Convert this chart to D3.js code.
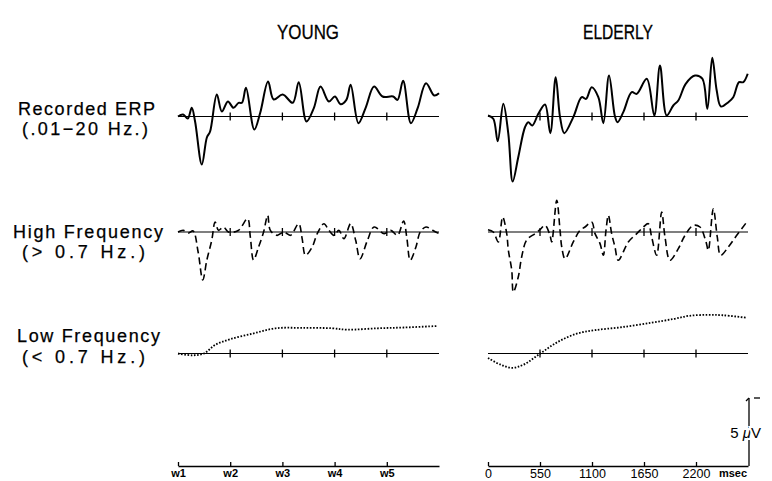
<!DOCTYPE html>
<html>
<head>
<meta charset="utf-8">
<script src="https://cdn.jsdelivr.net/npm/d3@7"></script>
<style>
  body { margin: 0; background: #fff; }
  svg { display: block; font-family: "Liberation Sans", Arial, sans-serif; }
</style>
</head>
<body>
<div id="chart"></div>
<script>
const width = 772, height = 481;

// time in msec, amplitude in microvolts (negative drawn upward)
const timeTicks = [0, 550, 1100, 1650, 2200];
const youngTickLabels = ["w1", "w2", "w3", "w4", "w5"];
const elderlyTickLabels = ["0", "550", "1100", "1650", "2200"];
const groupTitles = ["YOUNG", "ELDERLY"];
const rowLabels = [
    ["Recorded ERP", "(.01\u221220 Hz.)"],
    ["High Frequency", "(> 0.7 Hz.)"],
    ["Low Frequency", "(< 0.7 Hz.)"]
];

const youngErp = [[0,0],[53,-0.16],[103,0.16],[145,-0.68],[180,0.39],[251,3.75],[304,1.64],[338,1.17],
    [409,-1.72],[462,-0.39],[526,-1.17],[585,-0.68],[638,-1.07],[674,-1.07],[716,-2.24],[804,1.02],
    [867,-0.31],[949,-2.73],[1008,-1.33],[1103,-1.72],[1209,-1.07],[1272,-2.68],[1354,0.39],[1431,-0.65],
    [1502,-2.34],[1590,-1.17],[1653,-1.56],[1713,-0.96],[1774,-1.30],[1819,-2.48],[1901,0.52],[1978,-0.70],
    [2066,-2.34],[2155,-1.56],[2267,-1.56],[2313,-1.30],[2372,-2.79],[2454,0.52],[2525,-0.65],[2613,-2.60],
    [2700,-1.64],[2750,-1.82]];

const elderlyErp = [[0,-0.08],[56,0.18],[103,1.93],[162,-0.99],[215,1.35],[261,5.08],[320,3.18],[391,0.84],
    [426,0.45],[469,0.70],[532,-0.21],[603,-0.94],[659,1.30],[716,-3.07],[762,0.05],[807,1.30],[902,0.05],
    [991,-1.51],[1037,-1.38],[1097,-2.29],[1167,-1.51],[1220,0.52],[1280,-3.20],[1343,0],[1370,0.45],
    [1431,-0.34],[1520,-1.90],[1573,-1.77],[1679,-2.95],[1759,-0.08],[1819,-3.98],[1890,-0.08],[1960,-0.86],
    [2013,-1.25],[2091,-2.55],[2189,-3.20],[2267,-2.95],[2320,-0.60],[2372,-4.59],[2419,-2.03],[2464,-0.78],
    [2542,-1.12],[2594,-1.51],[2655,-2.68],[2700,-2.68],[2747,-3.34]];

const youngHigh = [[0,0],[56,-0.13],[109,0.08],[159,-0.08],[212,1.56],[261,3.75],[304,2.19],[356,0.63],
    [391,-0.78],[427,-0.13],[479,-0.39],[532,0],[635,-0.12],[733,-1.04],[762,0.39],[796,2.19],[849,1.17],
    [902,0],[945,-1.30],[973,-0.13],[1044,0.26],[1114,0],[1185,0.26],[1272,-0.65],[1308,0.52],[1343,1.82],
    [1414,1.17],[1467,0.13],[1537,-0.65],[1590,-0.13],[1643,0.26],[1695,-0.13],[1748,0.52],[1819,-0.65],
    [1872,0.65],[1918,2.09],[1996,0.65],[2066,-0.39],[2172,0.13],[2242,-0.13],[2313,0.26],[2377,-0.86],
    [2412,0.52],[2447,2.21],[2507,1.17],[2552,0],[2613,-0.39],[2683,-0.13],[2750,0.13]];

const elderlyHigh = [[0,-0.18],[56,0],[109,0.78],[155,-1.17],[198,0.13],[215,1.41],[251,2.97],[268,4.69],
    [320,3.52],[356,1.95],[409,0.63],[497,0.13],[550,-0.18],[603,-0.52],[656,0.26],[674,0.78],[727,-2.48],
    [762,-0.13],[780,1.17],[815,2.09],[902,0.78],[973,-0.13],[1026,-0.39],[1097,-0.78],[1132,0.13],
    [1185,0.91],[1220,1.82],[1248,-0.13],[1273,-1.30],[1308,0.13],[1343,1.17],[1378,2.21],[1484,0.78],
    [1573,0.13],[1643,-0.39],[1695,-0.65],[1731,0.39],[1784,1.82],[1837,-1.56],[1872,0.39],[1925,2.21],
    [2013,1.30],[2084,0.26],[2172,-0.52],[2242,-0.39],[2306,0.78],[2330,1.43],[2383,-1.82],[2425,0.39],
    [2461,1.82],[2542,1.17],[2631,0.26],[2737,-0.78]];

const youngLow = [[0,0],[154,0.14],[273,0],[391,-0.67],[550,-1.12],[790,-1.56],[1029,-1.97],[1307,-2.00],
    [1626,-1.97],[1784,-1.86],[2103,-1.97],[2380,-2.03],[2738,-2.15]];

const elderlyLow = [[0,0.35],[135,0.88],[255,1.12],[374,0.88],[553,0],[732,-0.88],[931,-1.53],[1130,-1.82],
    [1408,-2.05],[1726,-2.41],[1965,-2.70],[2124,-2.94],[2323,-3.02],[2481,-2.99],[2740,-2.79]];

const scaleBarValue = 5;

// layout
const rowBase = [116.5, 232, 353.5];
const axisY = 466;

const xYoung = d3.scaleLinear().domain([0, 2750]).range([178, 439]);
const xElderly = d3.scaleLinear().domain([0, 2750]).range([488, 748]);
const amp = d3.scaleLinear().domain([0, 5]).range([0, 64]);

const svg = d3.select("#chart").append("svg")
    .attr("width", width)
    .attr("height", height);

// column titles
svg.selectAll(".title")
    .data(groupTitles)
    .enter().append("text")
    .attr("class", "title")
    .attr("x", (d, i) => i === 0 ? 277 : 583)
    .attr("y", 39)
    .attr("textLength", (d, i) => i === 0 ? 62 : 70)
    .attr("lengthAdjust", "spacingAndGlyphs")
    .attr("stroke", "#000").attr("stroke-width", 0.3)
    .style("font-size", "21px")
    .text(d => d);

// row labels
const labelPos = [
    [[18, 115, 137], [22, 135, 126]],
    [[13, 238, 150], [22, 258, 123]],
    [[17, 342, 143], [22, 363, 123]]
];
rowLabels.forEach((pair, r) => {
    pair.forEach((txt, j) => {
        const p = labelPos[r][j];
        svg.append("text")
            .attr("x", p[0])
            .attr("y", p[1])
            .attr("textLength", p[2])
            .attr("lengthAdjust", "spacing")
            .attr("stroke", "#000").attr("stroke-width", 0.25)
            .style("font-size", "18px")
            .text(txt);
    });
});

const panels = [
    { x: xYoung, rows: [youngErp, youngHigh, youngLow] },
    { x: xElderly, rows: [elderlyErp, elderlyHigh, elderlyLow] }
];
const styles = [
    { w: 2, dash: null },
    { w: 1.6, dash: "7,4" },
    { w: 1.8, dash: "1.6,1.6" }
];

panels.forEach(panel => {
    const x = panel.x;
    panel.rows.forEach((data, r) => {
        const base = rowBase[r];
        const g = svg.append("g");

        // baseline with ticks
        g.append("line")
            .attr("x1", x.range()[0]).attr("x2", x.range()[1])
            .attr("y1", base).attr("y2", base)
            .attr("stroke", "#000").attr("stroke-width", 1.1);
        g.selectAll(".tk")
            .data(timeTicks.slice(1))
            .enter().append("line")
            .attr("x1", d => x(d)).attr("x2", d => x(d))
            .attr("y1", base - 4).attr("y2", base + 4)
            .attr("stroke", "#000").attr("stroke-width", 1.3);

        const line = d3.line()
            .x(d => x(d[0]))
            .y(d => base + amp(d[1]))
            .curve(d3.curveCatmullRom.alpha(0.5));

        g.append("path")
            .datum(data)
            .attr("d", line)
            .attr("fill", "none")
            .attr("stroke", "#000")
            .attr("stroke-width", styles[r].w)
            .attr("stroke-dasharray", styles[r].dash);
    });
});

// bottom time axes
const axYoung = svg.append("g")
    .attr("transform", `translate(0,${axisY})`)
    .call(d3.axisBottom(xYoung).tickValues(timeTicks)
        .tickFormat((d, i) => youngTickLabels[i])
        .tickSizeInner(-4).tickSizeOuter(0).tickPadding(3));
axYoung.selectAll("text").style("font-size", "11px").style("font-weight", "bold");

const axElderly = svg.append("g")
    .attr("transform", `translate(0,${axisY})`)
    .call(d3.axisBottom(xElderly).tickValues(timeTicks)
        .tickFormat((d, i) => elderlyTickLabels[i])
        .tickSizeInner(-4).tickSizeOuter(0).tickPadding(3));
axElderly.selectAll("text").style("font-size", "12.5px");

[axYoung, axElderly].forEach(ax => {
    ax.select(".domain").attr("stroke-width", 1.3);
    ax.selectAll(".tick line").attr("stroke-width", 1.3);
    ax.selectAll("text").attr("fill", "#000").style("font-family", "'Liberation Sans', Arial, sans-serif");
});

svg.append("text")
    .attr("x", 733)
    .attr("y", axisY + 3)
    .attr("dy", "0.71em")
    .attr("text-anchor", "middle")
    .style("font-size", "11px")
    .style("font-weight", "bold")
    .text("msec");

// scale bar (negative up)
const barX = 749, barTop = 398;
svg.append("line")
    .attr("x1", barX).attr("x2", barX)
    .attr("y1", barTop).attr("y2", axisY)
    .attr("stroke", "#000").attr("stroke-width", 1.3);
svg.append("line")
    .attr("x1", barX - 3).attr("x2", barX)
    .attr("y1", barTop + 3).attr("y2", barTop)
    .attr("stroke", "#000").attr("stroke-width", 1.3);
svg.append("line")
    .attr("x1", barX + 5).attr("x2", barX + 11)
    .attr("y1", barTop).attr("y2", barTop)
    .attr("stroke", "#000").attr("stroke-width", 1.3);

const barLabel = svg.append("text")
    .attr("x", 761)
    .attr("y", barTop + amp(scaleBarValue) * 0.62)
    .attr("text-anchor", "end")
    .attr("stroke", "#fff").attr("stroke-width", 4)
    .attr("paint-order", "stroke")
    .style("font-size", "15px");
barLabel.append("tspan").text(scaleBarValue + " ");
barLabel.append("tspan").style("font-style", "italic").text("\u03bc");
barLabel.append("tspan").text("V");
</script>
</body>
</html>
